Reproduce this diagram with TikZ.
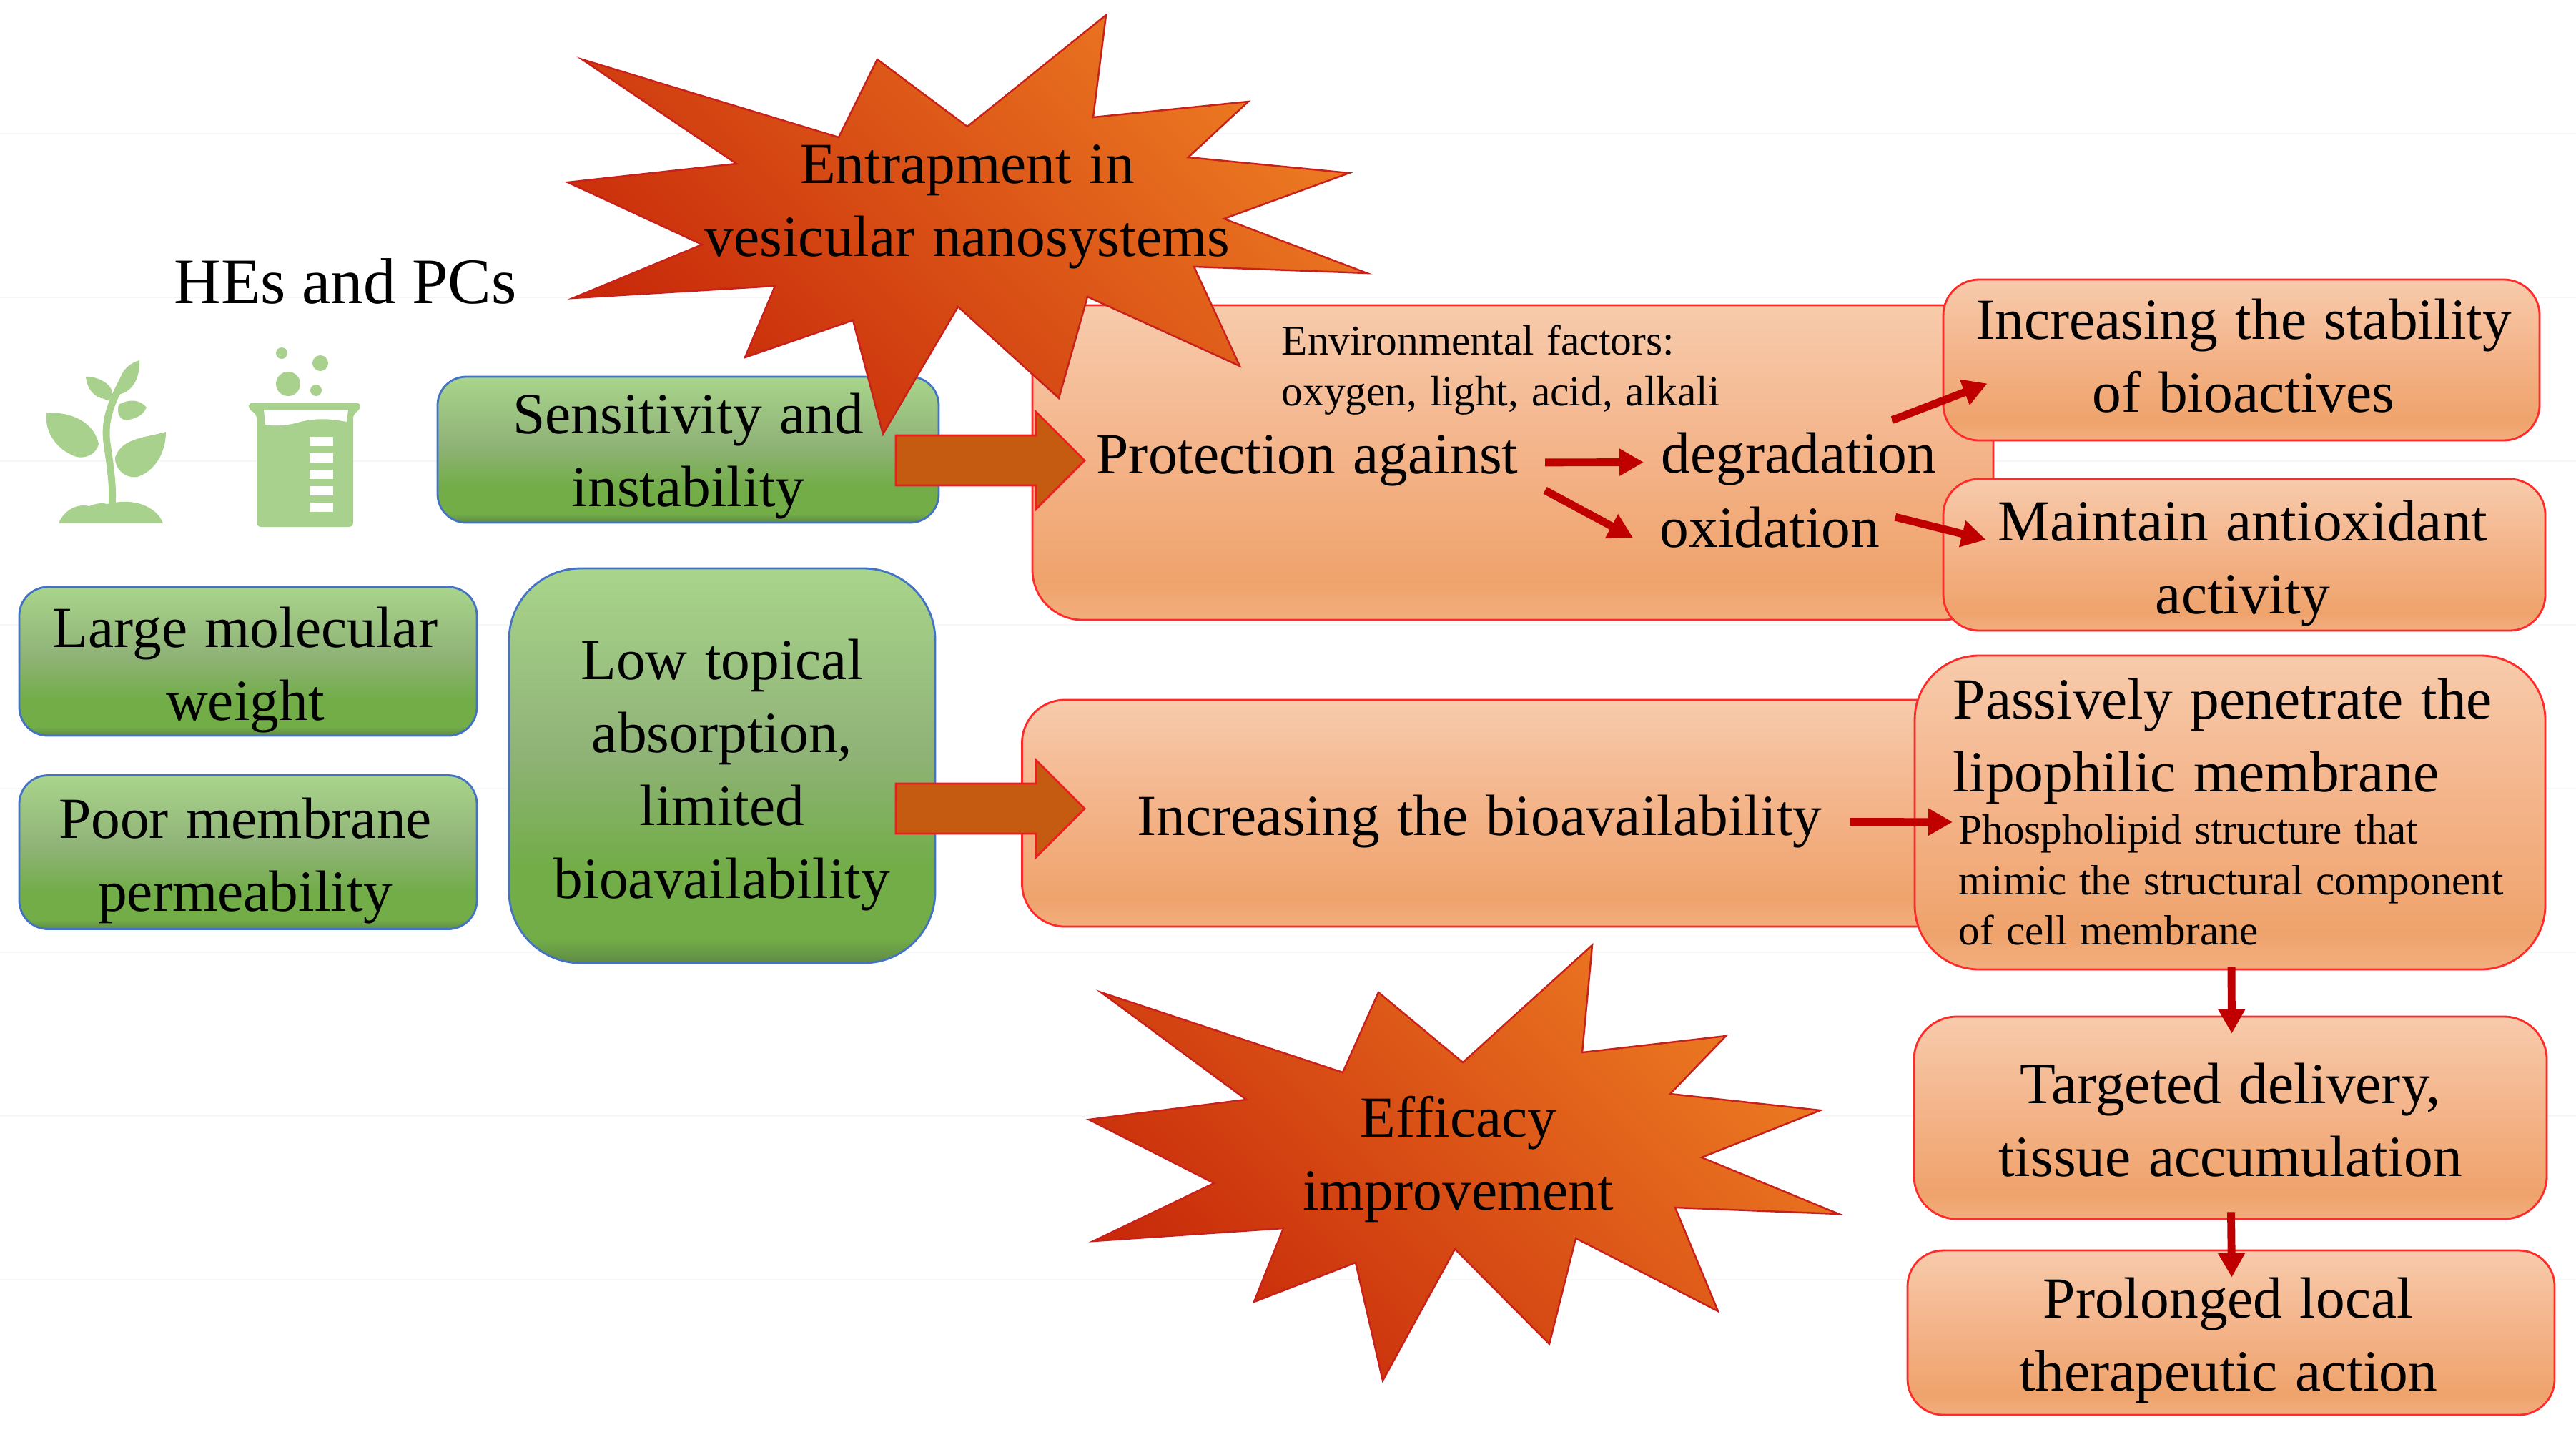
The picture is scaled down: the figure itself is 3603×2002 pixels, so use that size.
\documentclass[tikz,border=0pt]{standalone}
\usepackage{fontspec}
\setmainfont{Liberation Serif}
\newfontfamily\widefont[WordSpace=2]{Liberation Serif}
\newfontfamily\midfont[WordSpace=1.2]{Liberation Serif}
\usetikzlibrary{arrows.meta}
\definecolor{gA}{HTML}{A9D58B}
\definecolor{gB}{HTML}{90B378}
\definecolor{gC}{HTML}{72AD48}
\definecolor{gD}{HTML}{5F8A45}
\definecolor{oA}{HTML}{F7CBAC}
\definecolor{oB}{HTML}{F4B48A}
\definecolor{oC}{HTML}{EFA36C}
\definecolor{oD}{HTML}{F2AE7E}
\definecolor{icon}{HTML}{A9D18E}
\definecolor{blueln}{HTML}{4472C4}
\definecolor{redln}{HTML}{FF2B2B}
\definecolor{arrred}{HTML}{C00000}
\definecolor{blockf}{HTML}{C55A11}
\definecolor{starln}{HTML}{C8201A}
\definecolor{starA}{HTML}{C82A0A}
\definecolor{starB}{HTML}{EC7A22}
\definecolor{faint}{HTML}{F6F6F6}
\pgfdeclareverticalshading{greenv}{100bp}{color(0bp)=(gD);color(25bp)=(gD);color(28bp)=(gC);color(37bp)=(gC);color(52bp)=(gB);color(75bp)=(gA);color(100bp)=(gA)}
\pgfdeclareverticalshading{orangev}{100bp}{color(0bp)=(oD);color(25bp)=(oD);color(31bp)=(oC);color(52bp)=(oB);color(75bp)=(oA);color(100bp)=(oA)}
\newcommand{\bigf}{\widefont\fontsize{23.15}{29}\selectfont}
\newcommand{\smallf}{\widefont\fontsize{16.9}{20.2}\selectfont}
\newcommand{\smallg}{\midfont\fontsize{16.8}{20.2}\selectfont}
\tikzset{
  sz/.style 2 args={minimum width=#1*0.01cm,minimum height=#2*0.01cm},
  rr/.style={rounded corners=#1*0.01cm},
  greenbox/.style={shading=greenv,draw=blueln,line width=0.8pt,inner sep=0pt},
  orangebox/.style={shading=orangev,draw=redln,line width=0.8pt,inner sep=0pt},
  boxtext/.style={inner sep=0pt,font=\bigf,align=center},
  label/.style={inner sep=0pt,font=\bigf,anchor=base west},
  smalllabel/.style={inner sep=0pt,font=\smallg,anchor=base west},
  startext/.style={inner sep=0pt,font=\bigf,align=center},
  starshape/.style={draw=starln,line width=0.7pt,left color=starB,right color=starA,shading angle=-45,line join=miter},
  thin arrow/.style={draw=arrred,line width=3.1pt,-{Triangle[length=0.34cm,width=0.36cm]}},
  blockarrow/.style={fill=blockf,draw=redln!70!arrred,line width=0.8pt},
  iconfill/.style={fill=icon,draw=none}
}
\begin{document}
\begin{tikzpicture}[x=0.01cm,y=-0.01cm]
\useasboundingbox (0,0) rectangle (3603,2002);
\foreach \yy in {187,416,645,874,1103,1332,1561,1790}
  \draw[faint,line width=0.5pt] (0,\yy) -- (3603,\yy);

% plant icon
\path[iconfill] (82,732) .. controls (90,712) and (110,704) .. (125,708) .. controls (135,704) and (142,703) .. (150,705)
  .. controls (190,695) and (220,710) .. (228,732) -- cycle;
\path[draw=icon,line width=2.8pt,line cap=round] (156,712) .. controls (160,680) and (152,640) .. (149,615) .. controls (146,580) and (160,555) .. (178,520);
\path[iconfill] (195,504) .. controls (175,510) and (165,525) .. (165,552) .. controls (188,548) and (196,525) .. (195,504) -- cycle;
\path[iconfill] (120,527) .. controls (130,526) and (150,532) .. (156,545) .. controls (158,555) and (152,565) .. (146,558) .. controls (132,556) and (122,545) .. (120,527) -- cycle;
\path[iconfill] (205,570) .. controls (195,558) and (180,558) .. (166,566) .. controls (162,580) and (170,590) .. (180,587) .. controls (192,585) and (200,580) .. (205,570) -- cycle;
\path[iconfill] (65,578) .. controls (90,575) and (130,585) .. (138,621) .. controls (135,635) and (120,642) .. (107,639) .. controls (80,630) and (62,605) .. (65,578) -- cycle;
\path[iconfill] (232,604) .. controls (205,612) and (170,612) .. (161,640) .. controls (160,655) and (175,670) .. (192,667) .. controls (215,660) and (232,635) .. (232,604) -- cycle;
% beaker icon
\path[iconfill,rounded corners=0.06cm] (348,563) -- (504,563) -- (504,573) -- (494,579) -- (494,737) -- (359,737) -- (359,579) -- (348,573) -- cycle;
\path[fill=white] (369,573) -- (487,573) -- (485,590) .. controls (460,585) and (440,585) .. (420,590) .. controls (400,596) and (385,596) .. (371,594) -- cycle;
\foreach \yy in {611,634,657,680,703}
  \path[fill=white] (433,\yy) rectangle (466,\yy+13);
\path[iconfill] (394,494) circle [radius=8];
\path[iconfill] (448,508) circle [radius=11];
\path[iconfill] (403,537) circle [radius=17];
\path[iconfill] (442,546) circle [radius=8];

\node[inner sep=0pt,font=\fontsize{25.8}{30}\selectfont] (title) at (483,393) {HEs and PCs};

% green boxes
\node[greenbox,sz={701}{204},rr=40] (sens) at (962.5,629) {};
\node[greenbox,sz={640}{208},rr=40] (large) at (347,925) {};
\node[greenbox,sz={640}{215},rr=40] (poor) at (347,1192) {};
\node[greenbox,sz={596}{552},rr=100] (low) at (1010,1071) {};

% orange boxes
\node[orangebox,sz={1344}{440},rr=70] (prot) at (2116,647) {};
\node[orangebox,sz={834}{225},rr=50] (stab) at (3135,503.5) {};
\node[orangebox,sz={842}{212},rr=50] (main) at (3139,776) {};
\node[orangebox,sz={1321}{317},rr=60] (bio) at (2090,1137.5) {};
\node[orangebox,sz={882}{439},rr=90] (pass) at (3119,1136.5) {};
\node[orangebox,sz={885}{283},rr=60] (targ) at (3119.5,1563.5) {};
\node[orangebox,sz={905}{230},rr=50] (prol) at (3120.5,1864) {};

% starbursts
\path[starshape] (1547,21) -- (1529,164) -- (1746,142) -- (1662,220) -- (1887,242) -- (1712,306) -- (1912,382) -- (1670,373) -- (1734,512) -- (1521,415) -- (1481,557) -- (1340,429) -- (1235,607) -- (1193,448) -- (1042,500) -- (1084,400) -- (801,417) -- (982,342) -- (794,255) -- (1030,229) -- (814,83) -- (1173,192) -- (1227,83) -- (1353,177) -- cycle;
\path[starshape] (2227,1322) -- (2213,1472) -- (2414,1449) -- (2336,1530) -- (2546,1553) -- (2380,1619) -- (2572,1698) -- (2343,1689) -- (2403,1834) -- (2204,1732) -- (2167,1880) -- (2035,1747) -- (1934,1931) -- (1896,1766) -- (1754,1821) -- (1795,1718) -- (1529,1736) -- (1698,1655) -- (1523,1566) -- (1743,1538) -- (1540,1388) -- (1878,1500) -- (1928,1388) -- (2046,1486) -- cycle;
\node[startext] (entrap) at (1353,289) {Entrapment in\\vesicular nanosystems};
\node[startext] (effic) at (2040,1621) {Efficacy\\improvement};

% texts inside boxes
\node[boxtext] (senst) at ([shift={(0,9)}]sens.center) {Sensitivity and\\instability};
\node[boxtext] (larget) at ([shift={(-4,12)}]large.center) {Large molecular\\weight};
\node[boxtext] (poort) at ([shift={(-4,12)}]poor.center) {Poor membrane\\permeability};
\node[boxtext] (lowt) at ([shift={(0,13)}]low.center) {Low topical\\absorption,\\limited\\bioavailability};
\node[boxtext] (stabt) at ([shift={(3,-6)}]stab.center) {Increasing the stability\\of bioactives};
\node[boxtext] (maint) at ([shift={(-2,12)}]main.center) {Maintain antioxidant\\activity};
\node[boxtext] (targt) at ([shift={(0,3)}]targ.center) {Targeted delivery,\\tissue accumulation};
\node[boxtext] (prolt) at ([shift={(-4,11)}]prol.center) {Prolonged local\\therapeutic action};

\node[inner sep=0pt,anchor=base west,font=\smallf,align=left] (env1) at (1792,496) {Environmental factors:};
\node[inner sep=0pt,anchor=base west,font=\smallf,align=left] (env2) at (1792,567) {oxygen, light, acid, alkali};
\node[label] (ptxt) at (1533,662) {Protection against};
\node[label] (degr) at (2323,661) {degradation};
\node[label] (oxid) at (2321,765) {oxidation};
\node[label] (biotxt) at (1590,1168) {Increasing the bioavailability};
\node[label] (pass1) at (2731,1005) {Passively penetrate the};
\node[label] (pass2) at (2731,1107) {lipophilic membrane};
\node[smalllabel] (pho1) at (2739,1180) {Phospholipid structure that};
\node[smalllabel] (pho2) at (2739,1251) {mimic the structural component};
\node[smalllabel] (pho3) at (2739,1321) {of cell membrane};

% block arrows
\coordinate (blockA) at (1385,644);
\coordinate (blockB) at (1385,1131);
\foreach \c in {blockA,blockB}
  \draw[blockarrow] ([shift={(-132,-35)}]\c) -- ([shift={(64,-35)}]\c) -- ([shift={(64,-68)}]\c) -- ([shift={(132,0)}]\c) -- ([shift={(64,68)}]\c) -- ([shift={(64,35)}]\c) -- ([shift={(-132,35)}]\c) -- cycle;

% thin arrows
\draw[thin arrow] ([shift={(37,3)}]ptxt.east) -- ([shift={(-24,5)}]degr.west);
\draw[thin arrow] ([shift={(37,42)}]ptxt.east) -- ([shift={(-37,15)}]oxid.west);
\draw[thin arrow] ([shift={(-62,-54)}]degr.east) -- ([shift={(63,33)}]stab.west);
\draw[thin arrow] ([shift={(21,-14)}]oxid.east) -- ([shift={(61,-21)}]main.west);
\draw[thin arrow] ([shift={(38,1)}]biotxt.east) -- ([shift={(-8,-16)}]pho1.west);
\draw[thin arrow] ([shift={(2,-5)}]pass.south) -- ([shift={(2,25)}]targ.north);
\draw[thin arrow] ([shift={(1,-11)}]targ.south) -- ([shift={(1,39)}]prol.north);
\end{tikzpicture}
\end{document}
